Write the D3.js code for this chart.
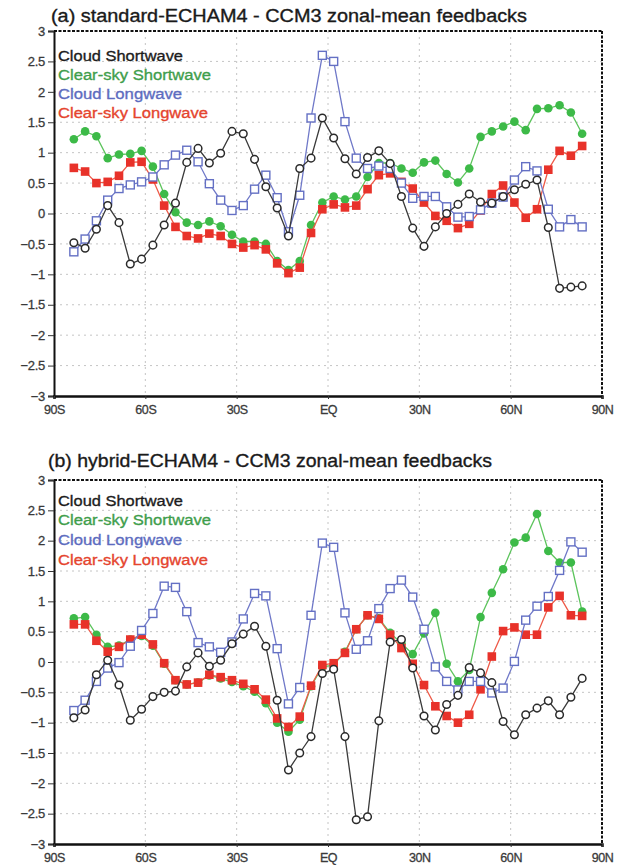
<!DOCTYPE html>
<html>
<head>
<meta charset="utf-8">
<script src="https://cdn.jsdelivr.net/npm/d3@7"></script>
<style>
html,body{margin:0;padding:0;background:#fff;}
svg{display:block;}
text{font-family:"Liberation Sans",Arial,Helvetica,sans-serif;}
</style>
</head>
<body>
<svg id="chart" width="617" height="865"></svg>
<script>
// Gaussian latitudes (T31 grid, poles omitted), degrees
const lats = [-83.48,-79.78,-76.07,-72.36,-68.65,-64.94,-61.23,-57.52,-53.81,-50.10,-46.39,-42.68,-38.97,-35.26,-31.54,-27.83,-24.12,-20.41,-16.70,-12.99,-9.28,-5.57,-1.86,
              1.86,5.57,9.28,12.99,16.70,20.41,24.12,27.83,31.54,35.26,38.97,42.68,46.39,50.10,53.81,57.52,61.23,64.94,68.65,72.36,76.07,79.78,83.48];

const seriesNames = ["Cloud Shortwave","Clear-sky Shortwave","Cloud Longwave","Clear-sky Longwave"];
const xTickValues = [-90,-60,-30,0,30,60,90];
const xTickLabels = ["90S","60S","30S","EQ","30N","60N","90N"];
const yTickValues = [3,2.5,2,1.5,1,0.5,0,-0.5,-1,-1.5,-2,-2.5,-3];
const titles = ["(a) standard-ECHAM4 - CCM3 zonal-mean feedbacks","(b) hybrid-ECHAM4 - CCM3 zonal-mean feedbacks"];

// Panel (a)
const aCloudSW = [-0.48,-0.57,-0.26,0.13,-0.15,-0.83,-0.75,-0.52,-0.19,0.17,0.84,1.07,0.83,0.99,1.35,1.31,0.89,0.44,0.09,-0.37,0.74,0.91,1.57,
                  1.24,0.90,0.65,0.92,1.03,0.82,0.28,-0.24,-0.54,-0.22,0.00,0.15,0.32,0.19,0.17,0.28,0.39,0.48,0.55,-0.23,-1.23,-1.21,-1.19];
const aClearSW = [1.22,1.35,1.27,0.91,0.97,0.98,1.03,0.77,0.32,0.02,-0.15,-0.19,-0.13,-0.21,-0.35,-0.46,-0.46,-0.50,-0.78,-0.93,-0.78,-0.19,0.18,
                  0.28,0.23,0.28,0.60,0.83,0.83,0.74,0.67,0.84,0.87,0.65,0.51,0.74,1.26,1.35,1.43,1.51,1.37,1.72,1.73,1.78,1.66,1.31];
const aCloudLW = [-0.63,-0.42,-0.12,0.22,0.41,0.47,0.52,0.60,0.80,0.96,1.04,0.85,0.49,0.22,0.05,0.13,0.40,0.63,0.26,-0.30,0.30,1.57,2.60,
                  2.50,1.51,0.91,0.74,0.78,0.74,0.50,0.25,0.28,0.28,0.11,-0.06,-0.05,0.06,0.17,0.27,0.55,0.77,0.70,0.07,-0.22,-0.10,-0.22];
const aClearLW = [0.75,0.69,0.50,0.52,0.62,0.84,0.85,0.56,0.13,-0.22,-0.37,-0.41,-0.33,-0.37,-0.50,-0.56,-0.52,-0.59,-0.82,-0.98,-0.89,-0.32,0.07,
                  0.15,0.10,0.13,0.40,0.63,0.66,0.52,0.41,0.18,-0.04,-0.12,-0.24,-0.17,0.05,0.32,0.46,0.18,-0.07,0.07,0.72,1.03,0.95,1.11];

// Panel (b)
const bCloudSW = [-0.92,-0.79,-0.21,0.03,-0.38,-0.96,-0.78,-0.57,-0.50,-0.48,-0.08,0.15,-0.07,0.03,0.30,0.46,0.59,0.26,-0.63,-1.78,-1.50,-1.23,-0.19,
                  -0.12,-1.23,-2.60,-2.55,-0.97,0.33,0.37,-0.10,-0.89,-1.12,-0.70,-0.55,-0.09,-0.18,-0.34,-0.98,-1.20,-0.87,-0.76,-0.64,-0.87,-0.58,-0.27];
const bClearSW = [0.72,0.74,0.45,0.25,0.27,0.37,0.43,0.27,-0.03,-0.30,-0.37,-0.34,-0.22,-0.27,-0.33,-0.40,-0.49,-0.68,-1.00,-1.15,-0.95,-0.40,-0.08,
                  -0.05,0.17,0.54,0.77,0.72,0.48,0.31,0.13,0.47,0.81,-0.03,-0.32,-0.13,0.74,1.14,1.53,1.97,2.05,2.44,1.83,1.64,1.64,0.83];
const bCloudLW = [-0.80,-0.63,-0.32,-0.10,-0.01,0.26,0.52,0.80,1.25,1.23,0.83,0.32,0.25,0.16,0.33,0.71,1.13,1.09,0.22,-0.69,-0.42,0.77,1.96,
                  1.89,0.81,0.21,0.35,0.88,1.21,1.35,1.07,0.54,-0.08,-0.32,-0.46,-0.32,-0.32,-0.51,-0.43,0.01,0.69,0.92,1.08,1.51,1.98,1.81];
const bClearLW = [0.62,0.62,0.35,0.17,0.25,0.37,0.45,0.29,-0.02,-0.30,-0.37,-0.34,-0.21,-0.25,-0.30,-0.36,-0.45,-0.62,-0.93,-1.07,-0.90,-0.39,-0.05,
                  -0.02,0.15,0.54,0.77,0.71,0.45,0.23,-0.03,-0.38,-0.73,-0.89,-1.00,-0.87,-0.45,0.09,0.51,0.57,0.45,0.45,0.90,1.09,0.77,0.76];

const styles = {
  "Cloud Shortwave":    {line:"#3a3a3a", text:"#1c1c1c", marker:"openCircle", len:125},
  "Clear-sky Shortwave":{line:"#5cc45c", text:"#3f9e4c", marker:"dot", fill:"#3dba48", len:153},
  "Cloud Longwave":     {line:"#6f78c8", text:"#5d6cbf", marker:"openSquare", len:124},
  "Clear-sky Longwave": {line:"#ee5a48", text:"#e5442e", marker:"filledSquare", fill:"#e8322a", len:150}
};

const panels = [
  {title:titles[0], top:31, bottom:396, titleY:22, titleLen:476, titleX:51, legendY:[61,80,99,118],
   data:{"Cloud Shortwave":aCloudSW,"Clear-sky Shortwave":aClearSW,"Cloud Longwave":aCloudLW,"Clear-sky Longwave":aClearLW}},
  {title:titles[1], top:480, bottom:844, titleY:467, titleLen:444, titleX:48, legendY:[506,525,545,565],
   data:{"Cloud Shortwave":bCloudSW,"Clear-sky Shortwave":bClearSW,"Cloud Longwave":bCloudLW,"Clear-sky Longwave":bClearLW}}
];

const svg = d3.select("#chart");
const left = 54, right = 602;
const drawOrder = ["Clear-sky Shortwave","Clear-sky Longwave","Cloud Longwave","Cloud Shortwave"];

panels.forEach(p => {
  const x = d3.scaleLinear().domain([-90,90]).range([left,right]);
  const y = d3.scaleLinear().domain([-3,3]).range([p.bottom,p.top]);
  const g = svg.append("g");

  // grid
  g.append("g").selectAll("line").data(yTickValues.filter(v => v > -3 && v < 3)).join("line")
    .attr("x1",left).attr("x2",right).attr("y1",d=>y(d)).attr("y2",d=>y(d))
    .attr("stroke","#c4c4c4").attr("stroke-width",1).attr("stroke-dasharray","2,4");
  g.append("g").selectAll("line").data(xTickValues.filter(v => v > -90 && v < 90)).join("line")
    .attr("y1",p.top).attr("y2",p.bottom).attr("x1",d=>x(d)).attr("x2",d=>x(d))
    .attr("stroke","#c4c4c4").attr("stroke-width",1).attr("stroke-dasharray","2,4");

  // frame: top & right dashed
  g.append("line").attr("x1",left).attr("x2",right).attr("y1",p.top).attr("y2",p.top)
    .attr("stroke","#111").attr("stroke-width",2).attr("stroke-dasharray","3,1.5");
  g.append("line").attr("x1",right).attr("x2",right).attr("y1",p.top).attr("y2",p.bottom)
    .attr("stroke","#111").attr("stroke-width",2).attr("stroke-dasharray","3,1.5");

  // axes
  const yAxis = d3.axisLeft(y).tickValues(yTickValues).tickSize(6).tickPadding(3)
    .tickFormat(d => d === 0 ? "0" : (d < 0 ? "\u2212" + d3.format("")(-d) : d3.format("")(d)));
  const ya = g.append("g").attr("transform",`translate(${left},0)`).call(yAxis);
  ya.select(".domain").attr("stroke","#111").attr("stroke-width",2);
  ya.selectAll(".tick line").attr("stroke","#333").attr("stroke-width",1);
  ya.selectAll("text").attr("font-size",13).attr("fill","#3a3a3a").attr("letter-spacing","-0.3")
    .attr("stroke","#3a3a3a").attr("stroke-width",0.3);

  const xAxis = d3.axisBottom(x).tickValues(xTickValues).tickSize(3).tickPadding(6)
    .tickFormat((d,i) => xTickLabels[i]);
  const xa = g.append("g").attr("transform",`translate(0,${p.bottom})`).call(xAxis);
  xa.select(".domain").attr("stroke","#111").attr("stroke-width",2.5);
  xa.selectAll(".tick line").attr("stroke","#333");
  xa.selectAll("text").attr("font-size",12.5).attr("fill","#3a3a3a").attr("letter-spacing","-0.4")
    .attr("stroke","#3a3a3a").attr("stroke-width",0.3);

  // series
  const line = d3.line().x((d,i)=>x(lats[i])).y(d=>y(d));
  drawOrder.forEach(name => {
    const st = styles[name], vals = p.data[name];
    g.append("path").datum(vals).attr("d",line).attr("fill","none")
      .attr("stroke",st.line).attr("stroke-width",1.3);
    const mg = g.append("g");
    if (st.marker === "openCircle") {
      mg.selectAll("circle").data(vals).join("circle")
        .attr("cx",(d,i)=>x(lats[i])).attr("cy",d=>y(d)).attr("r",3.8)
        .attr("fill","#fff").attr("stroke","#2a2a2a").attr("stroke-width",1.5);
    } else if (st.marker === "dot") {
      mg.selectAll("circle").data(vals).join("circle")
        .attr("cx",(d,i)=>x(lats[i])).attr("cy",d=>y(d)).attr("r",4.3)
        .attr("fill",st.fill);
    } else if (st.marker === "openSquare") {
      mg.selectAll("rect").data(vals).join("rect")
        .attr("x",(d,i)=>x(lats[i])-4).attr("y",d=>y(d)-4).attr("width",8).attr("height",8)
        .attr("fill","#fff").attr("stroke","#6470c4").attr("stroke-width",1.4);
    } else {
      mg.selectAll("rect").data(vals).join("rect")
        .attr("x",(d,i)=>x(lats[i])-4.3).attr("y",d=>y(d)-4.3).attr("width",8.6).attr("height",8.6)
        .attr("fill",st.fill);
    }
  });

  // legend
  seriesNames.forEach((name,k) => {
    g.append("text").attr("x",58).attr("y",p.legendY[k]).text(name)
      .attr("font-size",15.5).attr("fill",styles[name].text)
      .attr("stroke",styles[name].text).attr("stroke-width",0.35)
      .attr("textLength",styles[name].len).attr("lengthAdjust","spacingAndGlyphs");
  });

  // title
  g.append("text").attr("x",p.titleX).attr("y",p.titleY).text(p.title)
    .attr("font-size",18).attr("fill","#1a1a1a").attr("stroke","#1a1a1a").attr("stroke-width",0.35)
    .attr("textLength",p.titleLen).attr("lengthAdjust","spacingAndGlyphs");
});
</script>
</body>
</html>
